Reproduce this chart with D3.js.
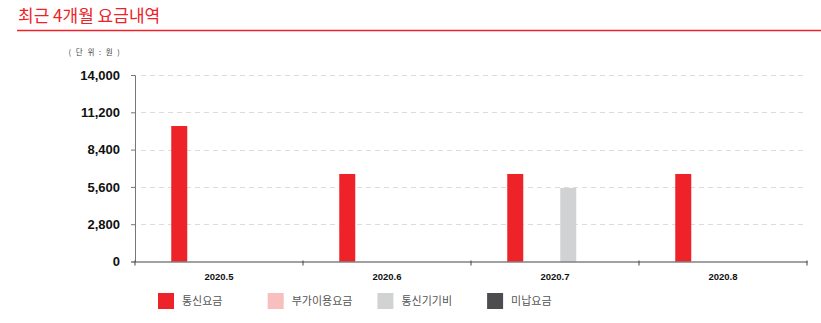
<!DOCTYPE html>
<html>
<head>
<meta charset="utf-8">
<script src="https://cdn.jsdelivr.net/npm/d3@7"></script>
<style>
  body { margin: 0; background: #fff; }
  svg { display: block; }
</style>
</head>
<body>
<script>
// chart data
var months = ["2020.5", "2020.6", "2020.7", "2020.8"];
var seriesNames = ["통신요금", "부가이용요금", "통신기기비", "미납요금"];
var seriesColors = ["#ee2229", "#f8bfbf", "#d1d2d4", "#4d4d4f"];
var telecom = [10170, 6570, 6570, 6570];
var extra = [0, 0, 0, 0];
var device = [0, 0, 5520, 0];
var unpaid = [0, 0, 0, 0];
var yTicks = [0, 2800, 5600, 8400, 11200, 14000];

var w = 821, h = 323;
var plotLeft = 135, plotRight = 807, plotTop = 75, plotBottom = 261.5;
var krFont = "'Noto Sans CJK KR', 'Noto Sans', sans-serif";
var numFont = "'Liberation Sans', Arial, sans-serif";

var svg = d3.select("body").append("svg").attr("width", w).attr("height", h);

// title + red rule
svg.append("text").attr("x", 18).attr("y", 22)
  .attr("font-family", krFont).attr("font-size", 17).attr("fill", "#ee2229")
  .text("최근 4개월 요금내역");
svg.append("line").attr("x1", 17).attr("x2", 821).attr("y1", 30.5).attr("y2", 30.5)
  .attr("stroke", "#ee2229").attr("stroke-width", 1.5);

svg.append("text").attr("x", 95).attr("y", 55).attr("text-anchor", "middle")
  .attr("font-family", krFont).attr("font-size", 7.5).attr("fill", "#444")
  .attr("letter-spacing", 1.5)
  .text("( 단 위  :  원 )");

var table = months.map(function (m, i) {
  return { month: m, values: [telecom[i], extra[i], device[i], unpaid[i]] };
});

var y = d3.scaleLinear().domain([0, 14000]).range([plotBottom, plotTop]);
var x0 = d3.scaleBand().domain(months).range([plotLeft, plotRight]);
var x1 = d3.scaleBand().domain(d3.range(4)).range([31, x0.bandwidth() - 31]);
var barW = 16;

// dashed grid
svg.append("g").selectAll("line").data(yTicks.slice(1)).enter().append("line")
  .attr("x1", plotLeft + 6).attr("x2", plotRight)
  .attr("y1", function (d) { return Math.round(y(d)) + 0.5; })
  .attr("y2", function (d) { return Math.round(y(d)) + 0.5; })
  .attr("stroke", "#dcdcdc").attr("stroke-dasharray", "5,4");

// bars
var groups = svg.append("g").selectAll("g").data(table).enter().append("g")
  .attr("transform", function (d) { return "translate(" + x0(d.month) + ",0)"; });
groups.selectAll("rect")
  .data(function (d) {
    return d.values.map(function (v, i) { return { v: v, i: i }; })
      .filter(function (e) { return e.v > 0; });
  })
  .enter().append("rect")
  .attr("x", function (e) { return x1(e.i) + (x1.bandwidth() - barW) / 2; })
  .attr("width", barW)
  .attr("y", function (e) { return y(e.v); })
  .attr("height", function (e) { return plotBottom - y(e.v); })
  .attr("fill", function (e) { return seriesColors[e.i]; });

// y axis
var yAxis = svg.append("g").attr("transform", "translate(" + plotLeft + ",0)")
  .call(d3.axisLeft(y).tickValues(yTicks).tickSize(4).tickPadding(11)
    .tickFormat(d3.format(",")));
yAxis.select(".domain").attr("stroke", "#777");
yAxis.selectAll(".tick line").attr("stroke", "#777");
yAxis.selectAll("text").attr("font-family", numFont).attr("font-weight", "bold")
  .attr("font-size", 13).attr("fill", "#111");

// x axis
var xAxis = svg.append("g").attr("transform", "translate(0," + plotBottom + ")")
  .call(d3.axisBottom(x0).tickSize(0).tickPadding(12));
xAxis.select(".domain").attr("stroke", "#444").attr("stroke-width", 1.2);
xAxis.selectAll("text").attr("font-family", numFont).attr("font-weight", "bold")
  .attr("font-size", 9.5).attr("fill", "#111");
svg.append("g").selectAll("line").data(months.concat(["end"])).enter().append("line")
  .attr("x1", function (d, i) { return plotLeft + i * x0.bandwidth(); })
  .attr("x2", function (d, i) { return plotLeft + i * x0.bandwidth(); })
  .attr("y1", plotBottom - 1).attr("y2", plotBottom + 4)
  .attr("stroke", "#444");

// legend
var legend = svg.append("g").selectAll("g").data(seriesNames).enter().append("g")
  .attr("transform", function (d, i) { return "translate(" + (158 + i * 109.7) + ",293)"; });
legend.append("rect").attr("width", 16).attr("height", 16)
  .attr("fill", function (d, i) { return seriesColors[i]; });
legend.append("text").attr("x", 24).attr("y", 12)
  .attr("font-family", krFont).attr("font-size", 11).attr("fill", "#555")
  .text(function (d) { return d; });
</script>
</body>
</html>
